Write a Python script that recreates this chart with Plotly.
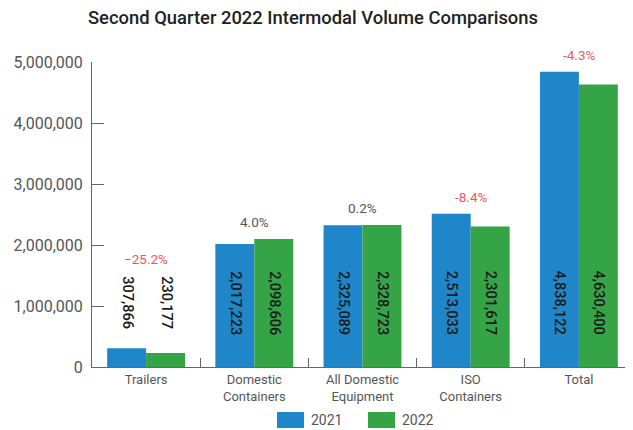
import plotly.graph_objects as go

categories = ["Trailers", "Domestic<br>Containers", "All Domestic<br>Equipment", "ISO<br>Containers", "Total"]
vol_2021 = [307866, 2017223, 2325089, 2513033, 4838122]
vol_2022 = [230177, 2098606, 2328723, 2301617, 4630400]
pct_change = ["\u221225.2%", "4.0%", "0.2%", "-8.4%", "-4.3%"]
pct_negative = [True, False, False, True, True]
y_ticks = [0, 1000000, 2000000, 3000000, 4000000, 5000000]
series_names = ["2021", "2022"]

BLUE = "#1f87c9"
GREEN = "#35a447"
FONT = "Roboto"
bargap = 0.28
OFF = 8  # default page body margin
W, H = 633 - OFF, 430 - OFF
ML, MR, MT, MB = 92 - OFF, 0, 62 - OFF, 63

fig = go.Figure()
fig.add_bar(x=list(range(len(categories))), y=vol_2021, name=series_names[0], marker_color=BLUE,
            marker_line_width=0, showlegend=False)
fig.add_bar(x=list(range(len(categories))), y=vol_2022, name=series_names[1], marker_color=GREEN,
            marker_line_width=0, showlegend=False)

half = (1 - bargap) / 4
label_y = 1050000
annotations = []
for i in range(len(categories)):
    for val, off in ((vol_2021[i], -half), (vol_2022[i], half)):
        annotations.append(dict(x=i + off, y=label_y, xref="x", yref="y",
                                text=f"{val:,}", textangle=90, showarrow=False,
                                font=dict(family=FONT, size=14.5, color="#1a1a1a", weight=500)))
    top = max(vol_2021[i], vol_2022[i], 1500000)
    annotations.append(dict(x=i, y=top, xref="x", yref="y", yanchor="bottom",
                            yshift=7, text=pct_change[i], showarrow=False,
                            font=dict(family=FONT, size=13.5,
                                      color="#f25757" if pct_negative[i] else "#555555")))

# manual legend (wide swatches) in paper coordinates; positions in page pixels
pw = W - ML - MR
ph = H - MT - MB
def px_x(p):
    return (p - OFF - ML) / pw
def px_y(p):
    return (H - MB - (p - OFF)) / ph

shapes = []
legend_items = [(series_names[0], BLUE, 277), (series_names[1], GREEN, 368)]
for name, col, x0 in legend_items:
    shapes.append(dict(type="rect", xref="paper", yref="paper",
                       x0=px_x(x0), x1=px_x(x0 + 27), y0=px_y(428), y1=px_y(412),
                       fillcolor=col, line=dict(width=0)))
    annotations.append(dict(x=px_x(x0 + 32), y=px_y(420), xref="paper", yref="paper",
                            xanchor="left", yanchor="middle", text=name, showarrow=False,
                            font=dict(family=FONT, size=14, color="#555555")))

fig.update_layout(
    width=W, height=H,
    margin=dict(l=ML, r=MR, t=MT, b=MB, autoexpand=False),
    paper_bgcolor="white", plot_bgcolor="white",
    barmode="group", bargap=bargap, bargroupgap=0,
    title=dict(text="Second Quarter 2022 Intermodal Volume Comparisons",
               x=(313 - OFF) / W, xanchor="center", xref="container",
               y=1 - (18 - OFF) / H, yanchor="middle",
               font=dict(family=FONT, size=18.4, color="#222222", weight=500)),
    font=dict(family=FONT, color="#555555"),
    showlegend=False,
    annotations=annotations,
    shapes=shapes,
)
fig.update_xaxes(tickmode="array", tickvals=list(range(len(categories))), ticktext=categories,
                 range=[-0.5, len(categories) - 0.5],
                 showline=True, linecolor="#666666", linewidth=1,
                 ticks="", tickfont=dict(family=FONT, size=13, color="#555555"),
                 showgrid=False, zeroline=False,
                 minor=dict(tickvals=[i + 0.5 for i in range(len(categories) - 1)],
                            ticks="inside", ticklen=9, tickcolor="#666666", showgrid=False))
fig.update_yaxes(range=[0, 5000000], tickvals=y_ticks, tickformat=",d",
                 showline=True, linecolor="#666666", linewidth=1,
                 ticks="inside", ticklen=12, tickcolor="#666666", ticklabelstandoff=5,
                 tickfont=dict(family=FONT, size=16, color="#555555"),
                 showgrid=False, zeroline=False)

fig.write_html("out.html")
